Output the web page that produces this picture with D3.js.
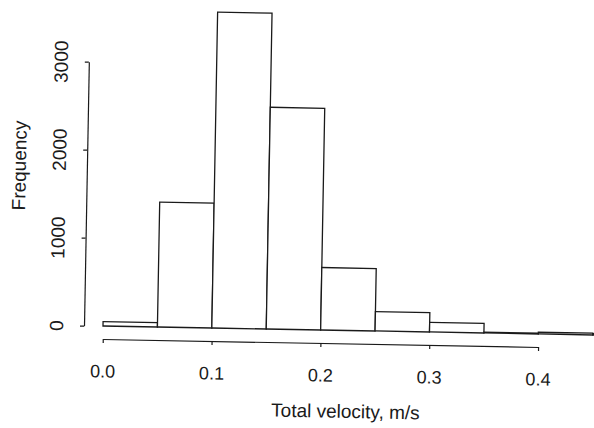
<!DOCTYPE html>
<html><head><meta charset="utf-8">
<script src="https://cdn.jsdelivr.net/npm/d3@7"></script>
<style>
html,body{margin:0;padding:0;background:#fff;}
svg{display:block;}
text{font-family:"Liberation Sans",Arial,Helvetica,sans-serif;fill:#1a1a1a;}
</style></head>
<body>
<script>
// Data
const binEdges = [0, 0.05, 0.10, 0.15, 0.20, 0.25, 0.30, 0.35, 0.40, 0.45, 0.50];
const counts   = [50, 1420, 3590, 2520, 710, 220, 110, 10, 20, 15];
const xTicks   = [0.0, 0.1, 0.2, 0.3, 0.4];
const xTickLabels = ["0.0", "0.1", "0.2", "0.3", "0.4"];
const yTicks   = [0, 1000, 2000, 3000];
const yTickLabels = ["0", "1000", "2000", "3000"];
const xTitle = "Total velocity, m/s";
const yTitle = "Frequency";

const W = 594, H = 428;
const svg = d3.select("body").append("svg").attr("width", W).attr("height", H);
// scanned page is slightly rotated
const g = svg.append("g").attr("transform", "rotate(1.05,103,326)");

const x = d3.scaleLinear().domain([0, 0.4]).range([103, 538.4]);
const y = d3.scaleLinear().domain([0, 3000]).range([326, 62]);

const bins = counts.map((c, i) => ({x0: binEdges[i], x1: binEdges[i + 1], c}));

g.selectAll("rect.bar").data(bins).enter().append("rect")
  .attr("class", "bar")
  .attr("x", d => x(d.x0))
  .attr("y", d => y(d.c))
  .attr("width", d => x(d.x1) - x(d.x0))
  .attr("height", d => y(0) - y(d.c))
  .attr("fill", "#fff")
  .attr("stroke", "#1a1a1a")
  .attr("stroke-width", 1.3);

// y axis
const yAxisX = 84;
const yAxis = d3.axisLeft(y).tickValues(yTicks).tickFormat((d, i) => yTickLabels[i]).tickSize(4).tickSizeOuter(0);
const ya = g.append("g").attr("transform", `translate(${yAxisX},0)`).call(yAxis);
ya.select(".domain").attr("stroke", "#1a1a1a").attr("stroke-width", 1.2);
ya.selectAll(".tick line").attr("stroke", "#1a1a1a").attr("stroke-width", 1.2);
ya.selectAll(".tick text")
  .attr("transform", "rotate(-90)")
  .attr("x", 0).attr("y", -21).attr("dy", 0)
  .attr("text-anchor", "middle")
  .style("font-size", "19px")
  .style("font-family", "'Liberation Sans',Arial,sans-serif")
  .attr("fill", "#1a1a1a");

// x axis
const xAxisY = 339;
const xAxis = d3.axisBottom(x).tickValues(xTicks).tickFormat((d, i) => xTickLabels[i]).tickSize(4).tickSizeOuter(0);
const xa = g.append("g").attr("transform", `translate(0,${xAxisY})`).call(xAxis);
xa.select(".domain").attr("stroke", "#1a1a1a").attr("stroke-width", 1.2);
xa.selectAll(".tick text")
  .attr("y", 38.5).attr("dy", 0)
  .style("font-size", "18px")
  .style("font-family", "'Liberation Sans',Arial,sans-serif")
  .attr("fill", "#1a1a1a");
xa.selectAll(".tick line").attr("stroke", "#1a1a1a").attr("stroke-width", 1.2);

// titles
g.append("text").attr("x", 347).attr("y", 413.5).attr("text-anchor", "middle")
  .style("font-size", "19px").text(xTitle);
g.append("text").attr("transform", "translate(23,167) rotate(-90)").attr("text-anchor", "middle")
  .style("font-size", "19px").text(yTitle);
</script>
</body></html>
